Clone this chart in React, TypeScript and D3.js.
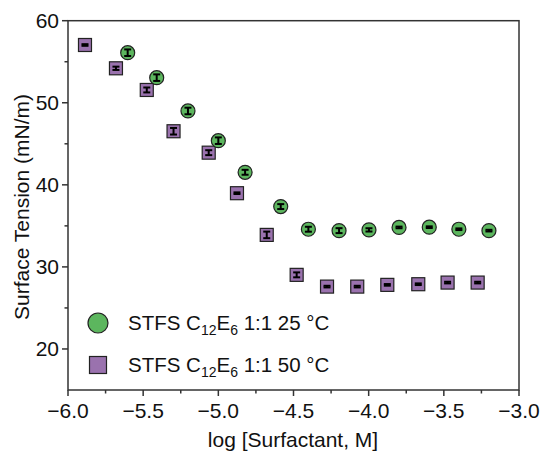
import React from "react";
import * as d3 from "d3";

const greenX = [-5.603, -5.41, -5.202, -5.0, -4.822, -4.585, -4.401, -4.197, -3.998, -3.798, -3.597, -3.4, -3.2];
const greenY = [56.1, 53.06, 49.0, 45.38, 41.53, 37.35, 34.59, 34.42, 34.51, 34.81, 34.84, 34.59, 34.42];
const greenErr = [0.4, 0.4, 0.4, 0.4, 0.3, 0.3, 0.3, 0.3, 0.2, 0.1, 0.1, 0.1, 0.1];

const purpleX = [-5.887, -5.681, -5.476, -5.298, -5.064, -4.876, -4.678, -4.479, -4.277, -4.076, -3.876, -3.67, -3.475, -3.275];
const purpleY = [57.04, 54.2, 51.56, 46.53, 43.92, 38.98, 33.9, 29.03, 27.6, 27.6, 27.81, 27.89, 28.09, 28.09];
const purpleErr = [0.1, 0.2, 0.3, 0.4, 0.3, 0.1, 0.4, 0.3, 0.1, 0.1, 0.1, 0.1, 0.1, 0.1];

const xTicks = [-6.0, -5.5, -5.0, -4.5, -4.0, -3.5, -3.0];
const xMinor = [-5.75, -5.25, -4.75, -4.25, -3.75, -3.25];
const yTicks = [20, 30, 40, 50, 60];
const yMinor = [25, 35, 45, 55];

const GREEN = "#5cb65e";
const PURPLE = "#9a72ae";
const AXIS = "#333";
const FONT = "'Liberation Sans', Arial, sans-serif";

export default function App() {
  const W = 541, H = 456;
  const x = d3.scaleLinear().domain([-6, -3]).range([68, 519]);
  const y = d3.scaleLinear().domain([15, 60]).range([390, 20.7]);
  const fmt = (v: number) => (v < 0 ? "\u2212" : "") + Math.abs(v).toFixed(1);

  const errBar = (cx: number, cy: number, e: number, k: string) => {
    const y1 = y(cy + e), y2 = y(cy - e);
    return (
      <g key={k} stroke="#000" strokeWidth={2}>
        <line x1={x(cx)} x2={x(cx)} y1={y1} y2={y2} />
        <line x1={x(cx) - 3.5} x2={x(cx) + 3.5} y1={y1} y2={y1} />
        <line x1={x(cx) - 3.5} x2={x(cx) + 3.5} y1={y2} y2={y2} />
      </g>
    );
  };

  return (
    <svg width={W} height={H} style={{ position: "absolute", left: 0, top: 0 }} fontFamily={FONT}>
      <rect x={0} y={0} width={W} height={H} fill="#fff" />
      <rect x={x(-6)} y={y(60)} width={x(-3) - x(-6)} height={y(15) - y(60)} fill="none" stroke={AXIS} strokeWidth={1.5} />
      {xTicks.map((t) => (
        <g key={"xt" + t}>
          <line x1={x(t)} x2={x(t)} y1={y(15)} y2={y(15) + 6} stroke={AXIS} strokeWidth={1.5} />
          <text x={x(t)} y={y(15) + 28} textAnchor="middle" fontSize={21} fill="#111">{fmt(t)}</text>
        </g>
      ))}
      {xMinor.map((t) => (
        <line key={"xm" + t} x1={x(t)} x2={x(t)} y1={y(15)} y2={y(15) + 3.5} stroke={AXIS} strokeWidth={1.5} />
      ))}
      {yTicks.map((t) => (
        <g key={"yt" + t}>
          <line x1={x(-6) - 6} x2={x(-6)} y1={y(t)} y2={y(t)} stroke={AXIS} strokeWidth={1.5} />
          <text x={x(-6) - 9} y={y(t) + 7.5} textAnchor="end" fontSize={21} fill="#111">{t}</text>
        </g>
      ))}
      {yMinor.map((t) => (
        <line key={"ym" + t} x1={x(-6) - 3.5} x2={x(-6)} y1={y(t)} y2={y(t)} stroke={AXIS} strokeWidth={1.5} />
      ))}
      <text x={293} y={447} textAnchor="middle" fontSize={21} fill="#111">log [Surfactant, M]</text>
      <text transform={`translate(29,${y(37.3)}) rotate(-90)`} textAnchor="middle" fontSize={21} fill="#111">Surface Tension (mN/m)</text>

      {purpleX.map((v, i) => (
        <g key={"p" + i}>
          <rect x={x(v) - 6.5} y={y(purpleY[i]) - 6.5} width={13} height={13} fill={PURPLE} stroke="#222" strokeWidth={1.2} />
          {errBar(v, purpleY[i], purpleErr[i], "pe" + i)}
        </g>
      ))}
      {greenX.map((v, i) => (
        <g key={"g" + i}>
          <circle cx={x(v)} cy={y(greenY[i])} r={7} fill={GREEN} stroke="#222" strokeWidth={1.2} />
          {errBar(v, greenY[i], greenErr[i], "ge" + i)}
        </g>
      ))}

      <circle cx={98} cy={323} r={10} fill={GREEN} stroke="#222" strokeWidth={1.2} />
      <rect x={89.5} y={356.5} width={17} height={17} fill={PURPLE} stroke="#222" strokeWidth={1.2} />
      <text x={128} y={330} fontSize={20.5} fill="#111">
        STFS C<tspan fontSize={14} dy={5}>12</tspan><tspan dy={-5}>E</tspan><tspan fontSize={14} dy={5}>6</tspan><tspan dy={-5}> 1:1 25 °C</tspan>
      </text>
      <text x={128} y={372} fontSize={20.5} fill="#111">
        STFS C<tspan fontSize={14} dy={5}>12</tspan><tspan dy={-5}>E</tspan><tspan fontSize={14} dy={5}>6</tspan><tspan dy={-5}> 1:1 50 °C</tspan>
      </text>
    </svg>
  );
}
